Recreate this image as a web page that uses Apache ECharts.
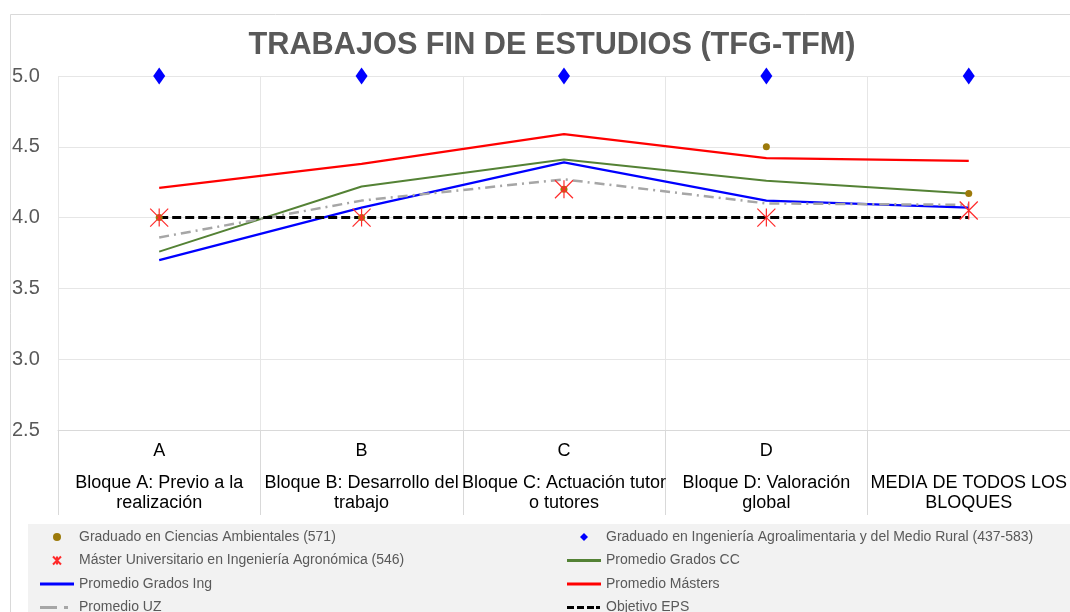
<!DOCTYPE html>
<html>
<head>
<meta charset="utf-8">
<script src="https://cdn.jsdelivr.net/npm/echarts@6/dist/echarts.min.js"></script>
<style>
  html, body { margin: 0; padding: 0; background: #fff; }
  #myChart { width: 1070px; height: 612px; }
</style>
</head>
<body>
<div id="myChart"></div>
<script>
// datos
const categoryCodes = ['A', 'B', 'C', 'D', '']
const categoryNames = [
  'Bloque A: Previo a la\nrealización',
  'Bloque B: Desarrollo del\ntrabajo',
  'Bloque C: Actuación tutor\no tutores',
  'Bloque D: Valoración\nglobal',
  'MEDIA DE TODOS LOS\nBLOQUES'
]
const cienciasAmbientales = [4.0, 4.0, 4.2, 4.5, 4.17]
const ingAgroalimentaria = [5.0, 5.0, 5.0, 5.0, 5.0]
const masterAgronomica = [4.0, 4.0, 4.2, 4.0, 4.05]
const promedioGradosCC = [3.76, 4.22, 4.41, 4.26, 4.17]
const promedioGradosIng = [3.70, 4.07, 4.39, 4.12, 4.07]
const promedioMasters = [4.21, 4.38, 4.59, 4.42, 4.40]
const promedioUZ = [3.86, 4.12, 4.27, 4.10, 4.09]
const objetivoEPS = [4.0, 4.0, 4.0, 4.0, 4.0]

const starPath = 'path://M0,0L10,10M10,0L0,10M5,0L5,10'
// iconos de leyenda para las lineas (el M34 final fija el ancho)
const iconSolid = 'path://M0,0H34V3H0Z'
const iconDashDot = 'path://M0,0H17V3H0Z M24,0H28V3H24Z M34,0L34,3'
const iconDashed = 'path://M0,0H7V3H0Z M10,0H17V3H10Z M20,0H27V3H20Z M29,0H33V3H29Z M34,0L34,3'

const legendText = { color: '#595959', fontSize: 14, fontFamily: 'Liberation Sans' }

const option = {
  animation: false,
  textStyle: { fontFamily: 'Liberation Sans' },
  title: {
    text: 'TRABAJOS FIN DE ESTUDIOS (TFG-TFM)',
    left: 547,
    top: 25,
    textAlign: 'center',
    textStyle: { color: '#595959', fontSize: 30.7, fontWeight: 'bold', fontFamily: 'Liberation Sans' }
  },
  graphic: [
    { type: 'rect', z: -10, shape: { x: 10.5, y: 14.5, width: 1080, height: 620 }, style: { fill: '#fff', stroke: '#d9d9d9', lineWidth: 1 } },
    { type: 'rect', z: -9, shape: { x: 28, y: 524, width: 1060, height: 100 }, style: { fill: '#f2f2f2' } }
  ],
  legend: [
    {
      orient: 'vertical',
      left: 40,
      top: 530,
      height: 120,
      padding: 0,
      itemWidth: 34,
      itemHeight: 10,
      itemGap: 9.5,
      textStyle: legendText,
      data: [
        'Graduado en Ciencias Ambientales (571)',
        'Máster Universitario en Ingeniería Agronómica (546)',
        { name: 'Promedio Grados Ing', icon: iconSolid },
        { name: 'Promedio UZ', icon: iconDashDot }
      ]
    },
    {
      orient: 'vertical',
      left: 567,
      top: 530,
      height: 120,
      padding: 0,
      itemWidth: 34,
      itemHeight: 10,
      itemGap: 9.5,
      textStyle: legendText,
      data: [
        'Graduado en Ingeniería Agroalimentaria y del Medio Rural (437-583)',
        { name: 'Promedio Grados CC', icon: iconSolid },
        { name: 'Promedio Másters', icon: iconSolid },
        { name: 'Objetivo EPS', icon: iconDashed }
      ]
    }
  ],
  grid: { left: 58, top: 76, width: 1013, height: 354 },
  xAxis: {
    type: 'category',
    data: categoryCodes,
    axisLine: { lineStyle: { color: '#d9d9d9' } },
    axisTick: { show: true, length: 85, lineStyle: { color: '#d9d9d9' } },
    splitLine: { show: true, lineStyle: { color: '#e6e6e6' } },
    axisLabel: {
      interval: 0,
      margin: 6,
      formatter: function (val, idx) {
        const lines = categoryNames[idx].split('\n').map(function (s) { return '{n|' + s + '}' })
        return '{c|' + (val || ' ') + '}\n{s| }\n' + lines.join('\n')
      },
      rich: {
        c: { fontSize: 18, lineHeight: 30, color: '#000', fontFamily: 'Liberation Sans' },
        s: { fontSize: 6, lineHeight: 7 },
        n: { fontSize: 18, lineHeight: 20, color: '#000', fontFamily: 'Liberation Sans' }
      }
    }
  },
  yAxis: {
    type: 'value',
    min: 2.5,
    max: 5,
    interval: 0.5,
    axisLine: { show: false },
    axisTick: { show: false },
    splitLine: { lineStyle: { color: '#e6e6e6' } },
    axisLabel: {
      align: 'left',
      margin: 46,
      color: '#595959',
      fontSize: 20,
      fontFamily: 'Liberation Sans',
      formatter: function (v) { return v.toFixed(1) }
    }
  },
  series: [
    {
      name: 'Graduado en Ciencias Ambientales (571)',
      type: 'line',
      data: cienciasAmbientales,
      symbol: 'circle',
      symbolSize: 7,
      lineStyle: { width: 0, opacity: 0 },
      itemStyle: { color: '#9c7a0a' }
    },
    {
      name: 'Graduado en Ingeniería Agroalimentaria y del Medio Rural (437-583)',
      type: 'line',
      data: ingAgroalimentaria,
      symbol: 'diamond',
      symbolSize: [12, 17],
      lineStyle: { width: 0, opacity: 0 },
      itemStyle: { color: '#0000ff' }
    },
    {
      name: 'Máster Universitario en Ingeniería Agronómica (546)',
      type: 'line',
      data: masterAgronomica,
      symbol: starPath,
      symbolSize: 18,
      z: 5,
      lineStyle: { width: 0, opacity: 0 },
      itemStyle: { color: 'transparent', borderColor: '#ff2a2a', borderWidth: 1.2 }
    },
    {
      name: 'Promedio Grados CC',
      type: 'line',
      data: promedioGradosCC,
      symbol: 'none',
      lineStyle: { color: '#548235', width: 2 },
      itemStyle: { color: '#548235' }
    },
    {
      name: 'Promedio Grados Ing',
      type: 'line',
      data: promedioGradosIng,
      symbol: 'none',
      lineStyle: { color: '#0000ff', width: 2.2 },
      itemStyle: { color: '#0000ff' }
    },
    {
      name: 'Promedio Másters',
      type: 'line',
      data: promedioMasters,
      symbol: 'none',
      lineStyle: { color: '#ff0000', width: 2.2 },
      itemStyle: { color: '#ff0000' }
    },
    {
      name: 'Promedio UZ',
      type: 'line',
      data: promedioUZ,
      symbol: 'none',
      lineStyle: { color: '#a6a6a6', width: 2.5, type: [10, 5, 2, 5] },
      itemStyle: { color: '#a6a6a6' }
    },
    {
      name: 'Objetivo EPS',
      type: 'line',
      data: objetivoEPS,
      symbol: 'none',
      lineStyle: { color: '#000000', width: 3, type: [9, 4] },
      itemStyle: { color: '#000000' }
    }
  ]
}

const chart = echarts.init(document.getElementById('myChart'))
chart.setOption(option)
</script>
</body>
</html>
